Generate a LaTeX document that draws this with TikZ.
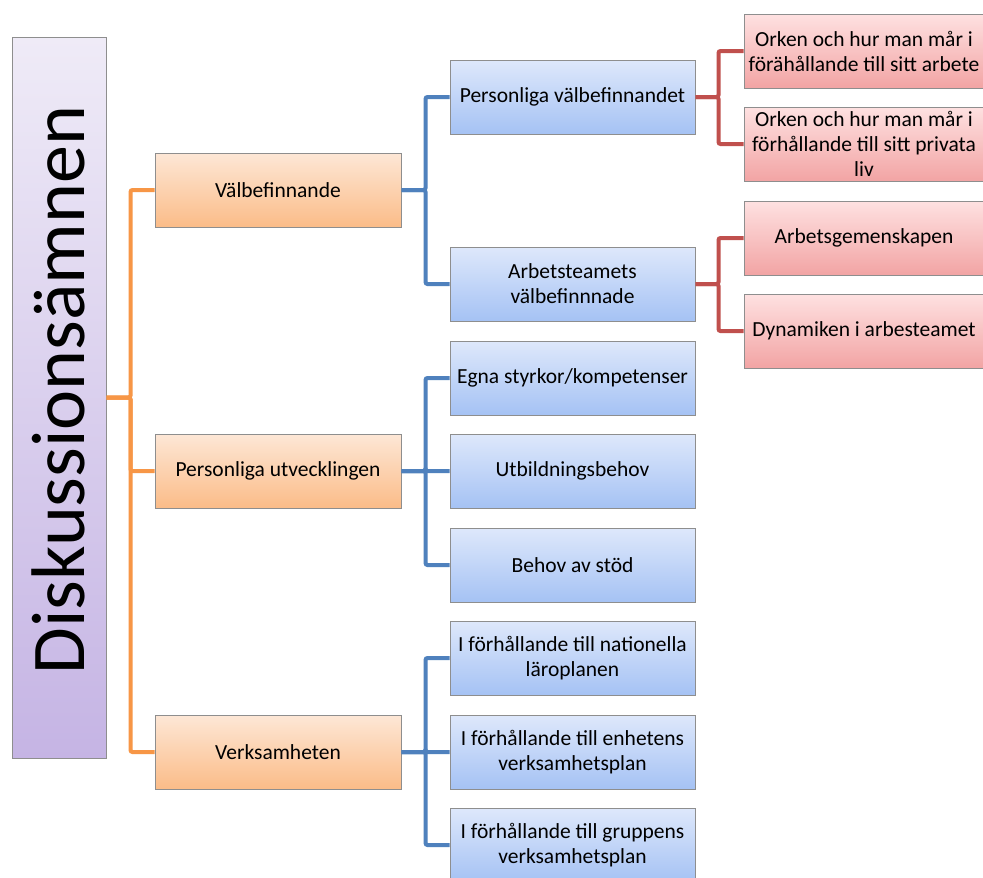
\documentclass[tikz,border=0pt]{standalone}
\usepackage{fontspec}
\setmainfont{Carlito}
\definecolor{rootTop}{HTML}{EFEBF7}
\definecolor{rootBot}{HTML}{C5B4E4}
\definecolor{orTop}{HTML}{FDE7D6}
\definecolor{orBot}{HTML}{FBBC88}
\definecolor{blTop}{HTML}{DEE8FB}
\definecolor{blBot}{HTML}{A5C2F4}
\definecolor{rdTop}{HTML}{FEE1E1}
\definecolor{rdBot}{HTML}{F2A4A4}
\definecolor{edgeGray}{HTML}{8E8E8E}
\definecolor{orLine}{HTML}{F79646}
\definecolor{blLine}{HTML}{4F81BD}
\definecolor{rdLine}{HTML}{C0504D}
\tikzset{
  box/.style={draw=edgeGray, line width=1pt, inner xsep=0pt, inner ysep=2pt,
    align=center, font=\fontsize{21.5}{25}\selectfont, text=black},
  rootbox/.style={box, minimum width=94pt, minimum height=721pt, top color=rootTop, bottom color=rootBot},
  lvlone/.style={box, minimum width=246pt, minimum height=74pt, top color=orTop, bottom color=orBot},
  lvltwo/.style={box, minimum width=245pt, minimum height=74pt, top color=blTop, bottom color=blBot},
  lvlthree/.style={box, minimum width=240pt, minimum height=74pt, top color=rdTop, bottom color=rdBot},
  link/.style={line width=4pt, rounded corners=2pt},
  orlink/.style={link, draw=orLine},
  bllink/.style={link, draw=blLine},
  rdlink/.style={link, draw=rdLine},
}
\begin{document}
\begin{tikzpicture}[x=1pt, y=-1pt]
\useasboundingbox (0,0) rectangle (983,878);
\clip (0,0) rectangle (983,878);
\fill[white] (0,0) rectangle (983,878);

% root
\node[rootbox] (root) at (59,397.5) {};
\node[rotate=90, font=\fontsize{76}{82}\selectfont] (roottext) at (58,390) {Diskussionsämnen};

% first level
\node[lvlone] (valb) at (278,190) {Välbefinnande};
\node[lvlone] (utv) at (278,471) {Personliga utvecklingen};
\node[lvlone] (verk) at (278,752) {Verksamheten};

% second level
\node[lvltwo] (pv) at (572.5,97) {Personliga välbefinnandet};
\node[lvltwo] (av) at (572.5,284) {Arbetsteamets\\välbefinnnade};
\node[lvltwo] (es) at (572.5,378) {Egna styrkor/kompetenser};
\node[lvltwo] (ub) at (572.5,471) {Utbildningsbehov};
\node[lvltwo] (bs) at (572.5,565) {Behov av stöd};
\node[lvltwo] (nl) at (572.5,658) {I förhållande till nationella\\läroplanen};
\node[lvltwo] (ev) at (572.5,752) {I förhållande till enhetens\\verksamhetsplan};
\node[lvltwo] (gv) at (572.5,845) {I förhållande till gruppens\\verksamhetsplan};

% third level
\node[lvlthree] (oa) at (864,51) {Orken och hur man mår i\\förähållande till sitt arbete};
\node[lvlthree] (op) at (864,144) {Orken och hur man mår i\\förhållande till sitt privata\\liv};
\node[lvlthree] (ag) at (864,238) {Arbetsgemenskapen};
\node[lvlthree] (dy) at (864,331) {Dynamiken i arbesteamet};

% connectors
\foreach \c in {valb,utv,verk}
  \draw[orlink] (root.east) -- ++(24,0) |- (\c.west);
\foreach \c in {pv,av}
  \draw[bllink] (valb.east) -- ++(24,0) |- (\c.west);
\foreach \c in {es,ub,bs}
  \draw[bllink] (utv.east) -- ++(24,0) |- (\c.west);
\foreach \c in {nl,ev,gv}
  \draw[bllink] (verk.east) -- ++(24,0) |- (\c.west);
\foreach \c in {oa,op}
  \draw[rdlink] (pv.east) -- ++(23,0) |- (\c.west);
\foreach \c in {ag,dy}
  \draw[rdlink] (av.east) -- ++(23,0) |- (\c.west);
\end{tikzpicture}
\end{document}
